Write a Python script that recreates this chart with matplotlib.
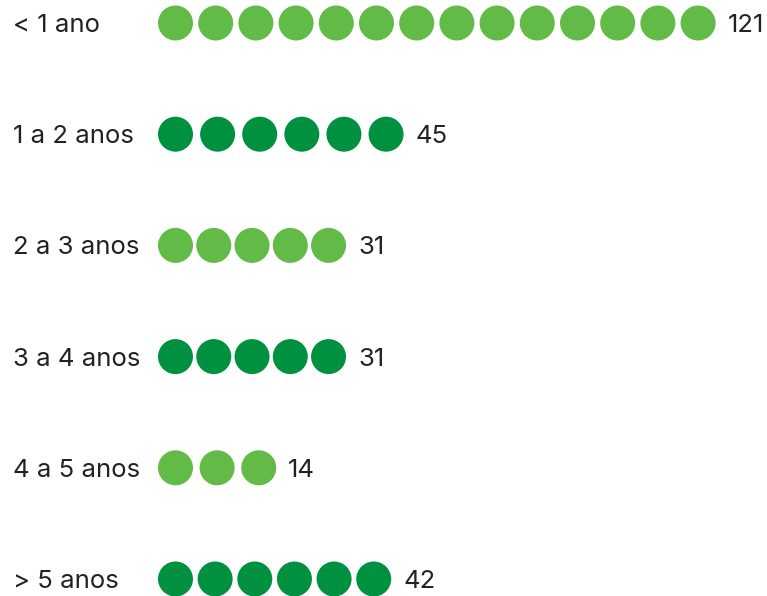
import matplotlib
matplotlib.use("Agg")
import matplotlib.pyplot as plt
import numpy as np

categories = ["< 1 ano", "1 a 2 anos", "2 a 3 anos", "3 a 4 anos", "4 a 5 anos", "> 5 anos"]
values = [121, 45, 31, 31, 14, 42]
dot_counts = [14, 6, 5, 5, 3, 6]
colors = ["#62BB46", "#009140", "#62BB46", "#009140", "#62BB46", "#009140"]

W, H, DPI = 767, 596, 100
PX_PER_UNIT = 4.106      # horizontal scale
X0_PX = 158              # bar start in pixels
PAD = 14.8               # extra length of symbol bar beyond value (value units)
DOT_PX = 35
ROW_TOP_PX, ROW_STEP_PX = 23, 111.2

fig = plt.figure(figsize=(W / DPI, H / DPI), dpi=DPI)
ax = fig.add_axes([0, 0, 1, 1])
ax.set_xlim(-X0_PX / PX_PER_UNIT, (W - X0_PX) / PX_PER_UNIT)
y_top = -ROW_TOP_PX / ROW_STEP_PX
y_bot = (H - ROW_TOP_PX) / ROW_STEP_PX
ax.set_ylim(y_bot, y_top)
ax.axis("off")

r_units = (DOT_PX / 2) / PX_PER_UNIT
s = (DOT_PX * 72 / DPI) ** 2
font = ["Inter", "DejaVu Sans"]
label_x = (13 - X0_PX) / PX_PER_UNIT

for i, (cat, v, n, c) in enumerate(zip(categories, values, dot_counts, colors)):
    L = v + PAD
    centers = np.linspace(r_units, L - r_units, n)
    ax.scatter(centers, np.full(n, i), s=s, color=c, edgecolors="none", zorder=3)
    ax.text(label_x, i, cat, ha="left", va="center_baseline", fontsize=18.5, color="#222222", family=font)
    ax.text(L + 12 / PX_PER_UNIT, i, str(v), ha="left", va="center_baseline", fontsize=18.5,
            color="#222222", family=font)

fig.savefig("out.png", dpi=DPI)
